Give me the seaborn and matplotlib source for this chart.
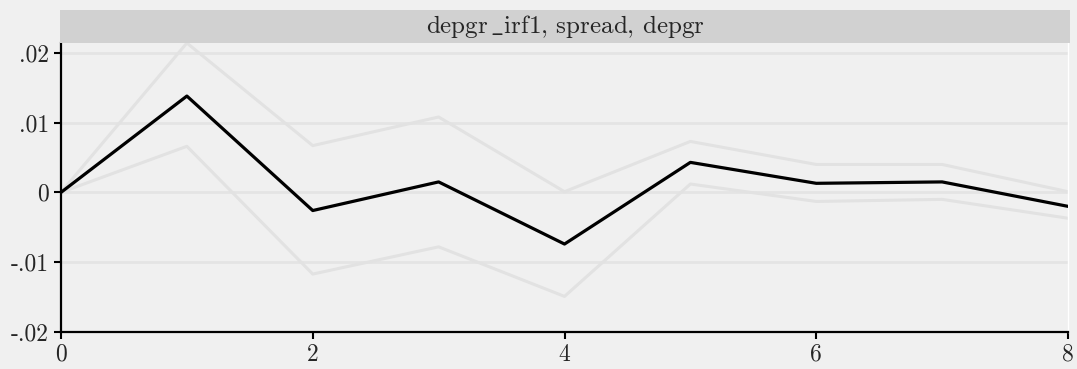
import matplotlib
matplotlib.use("Agg")
import matplotlib.pyplot as plt
import seaborn as sns
import pandas as pd

# Impulse response of depgr to a spread shock, with confidence band
steps = [0, 1, 2, 3, 4, 5, 6, 7, 8]
irf = [0.0, 0.0138, -0.0026, 0.0015, -0.0074, 0.0043, 0.0013, 0.0015, -0.0020]
upper = [0.0, 0.0214, 0.0067, 0.0108, 0.0001, 0.0073, 0.0040, 0.0040, 0.0001]
lower = [0.0, 0.0066, -0.0117, -0.0078, -0.0149, 0.0012, -0.0013, -0.0010, -0.0037]

yticks = [-0.02, -0.01, 0.0, 0.01, 0.02]
ytick_labels = ["-.02", "-.01", "0", ".01", ".02"]
xticks = [0, 2, 4, 6, 8]
xtick_labels = ["0", "2", "4", "6", "8"]
panel_title = r"depgr$\,\_$irf1, spread, depgr"

sns.set_theme(style="white")
bg = "#f0f0f0"
plt.rcParams["font.family"] = ["cmr10", "DejaVu Serif"]
plt.rcParams["mathtext.fontset"] = "cm"
plt.rcParams["axes.unicode_minus"] = False

df = pd.DataFrame({"step": steps, "irf": irf, "upper": upper, "lower": lower})

fig = plt.figure(figsize=(10.77, 3.69), dpi=100, facecolor=bg)
ax = fig.add_axes([61 / 1077, 1 - 332 / 369, (1068 - 61) / 1077, (332 - 43) / 369])
ax.set_facecolor(bg)

# light grid at each y tick (except the bottom axis)
for yv in yticks[1:]:
    ax.axhline(yv, color="#e4e4e4", lw=2.0, zorder=0)

band_color = "#e2e2e2"
sns.lineplot(data=df, x="step", y="upper", ax=ax, color=band_color, lw=2.2, zorder=2)
sns.lineplot(data=df, x="step", y="lower", ax=ax, color=band_color, lw=2.2, zorder=2)
sns.lineplot(data=df, x="step", y="irf", ax=ax, color="black", lw=2.3, zorder=3)

ax.set_xlim(0, 8)
ax.set_ylim(-0.02, 0.0214)
ax.set_xticks(xticks)
ax.set_xticklabels(xtick_labels)
ax.set_yticks(yticks)
ax.set_yticklabels(ytick_labels)
ax.set_xlabel("")
ax.set_ylabel("")
ax.tick_params(axis="both", which="both", direction="out", length=5, width=1.5,
               color="black", labelsize=17, pad=3.5, bottom=True, left=True)
ax.spines["top"].set_visible(False)
ax.spines["right"].set_color("white")
ax.spines["right"].set_linewidth(1.0)
for side in ["left", "bottom"]:
    ax.spines[side].set_color("black")
    ax.spines[side].set_linewidth(1.6)

# title strip above the panel
strip = fig.add_axes([60 / 1077, 1 - 43 / 369, (1070 - 60) / 1077, 33 / 369])
strip.set_facecolor("#d1d1d1")
strip.set_xticks([])
strip.set_yticks([])
for s in strip.spines.values():
    s.set_visible(False)
strip.text(0.5, 0.5, panel_title, ha="center", va="center", fontsize=18,
           transform=strip.transAxes)

fig.savefig("out.png", dpi=100, facecolor=bg)
